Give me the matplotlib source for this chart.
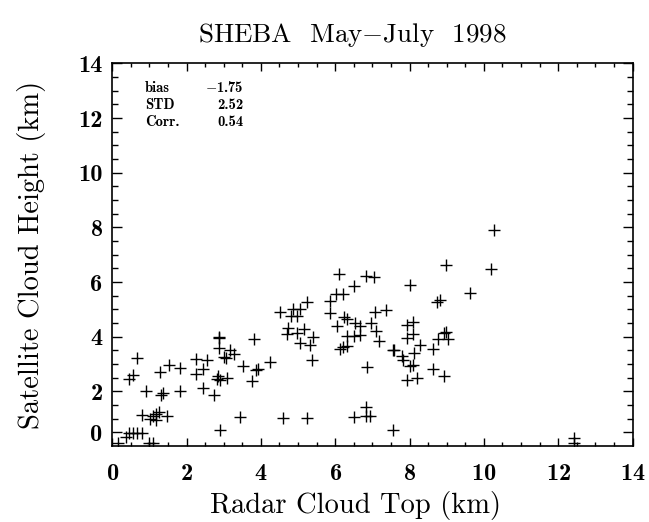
import numpy as np
import matplotlib
matplotlib.use("Agg")
import matplotlib.pyplot as plt
from matplotlib.ticker import FixedLocator, FixedFormatter, MultipleLocator

# Radar cloud top vs satellite cloud height (km)
radar_top = [0.16, 0.37, 0.46, 0.57, 0.67, 0.79, 1.00, 1.10, 0.66, 0.46,
             0.57, 0.91, 0.81, 1.01, 1.09, 1.17, 1.26, 1.18, 1.47, 1.28,
             1.30, 1.37, 1.53, 1.82, 1.82, 2.26, 2.54, 2.26, 2.45, 2.45,
             2.74, 2.81, 2.85, 2.90, 3.08, 2.87, 2.88, 2.86, 3.00, 3.07,
             3.18, 3.27, 2.89, 3.43, 3.52, 3.81, 3.76, 3.88, 3.93, 4.25,
             4.52, 4.60, 4.69, 4.74, 4.80, 4.87, 4.96, 5.06, 4.96, 5.16,
             5.06, 5.24, 5.41, 5.33, 5.38, 5.24, 5.86, 5.87, 6.03, 6.22,
             6.10, 6.50, 6.82, 7.04, 6.04, 6.24, 6.33, 6.53, 6.67, 6.95,
             7.07, 7.37, 7.11, 7.17, 6.32, 6.51, 6.66, 6.13, 6.22, 6.32,
             6.85, 6.84, 6.84, 6.93, 6.50, 7.56, 7.56, 7.58, 7.80, 7.83,
             7.92, 8.10, 8.10, 7.92, 8.02, 8.10, 7.92, 8.20, 8.11, 8.29,
             8.01, 8.64, 8.64, 8.73, 8.82, 8.98, 8.94, 8.99, 8.77, 9.03,
             8.94, 9.62, 10.19, 10.27, 12.43, 12.43]
sat_height = [0.10, 0.33, 0.49, 0.49, 0.49, 0.49, 0.10, 0.10, 3.21, 2.44,
              2.60, 2.00, 1.12, 0.97, 1.10, 1.17, 1.26, 0.95, 1.10, 2.69,
              1.88, 1.93, 2.95, 2.86, 2.00, 3.20, 3.16, 2.64, 2.82, 2.13,
              1.87, 2.44, 2.57, 2.42, 2.48, 4.00, 3.95, 3.60, 3.26, 3.21,
              3.53, 3.37, 0.60, 1.05, 2.94, 3.92, 2.38, 2.78, 2.81, 3.07,
              4.92, 1.04, 4.10, 4.31, 4.76, 5.00, 4.75, 5.03, 4.13, 4.28,
              3.77, 5.26, 4.00, 3.70, 3.16, 1.01, 5.32, 4.88, 5.55, 5.55,
              6.28, 5.87, 6.22, 6.20, 4.40, 4.71, 4.65, 4.49, 4.40, 4.51,
              4.92, 4.99, 4.20, 3.84, 4.02, 4.02, 4.05, 3.55, 3.63, 3.66,
              2.89, 1.44, 1.10, 1.10, 1.07, 0.59, 3.52, 3.50, 3.30, 3.13,
              4.42, 4.55, 4.10, 3.94, 2.92, 2.95, 2.40, 2.48, 3.42, 3.68,
              5.89, 3.54, 2.81, 5.26, 5.35, 6.63, 4.14, 4.18, 3.91, 3.91,
              2.56, 5.59, 6.47, 7.91, 0.28, 0.10]

# y tick positions and their labels (the "0" tick sits half a km up)
y_tick_pos = [0.5, 2, 4, 6, 8, 10, 12, 14]
y_tick_lab = ["0", "2", "4", "6", "8", "10", "12", "14"]
x_tick_pos = [0, 2, 4, 6, 8, 10, 12, 14]

stat_names = ["bias", "STD", "Corr."]
stat_values = [r"$-$1.75", "2.52", "0.54"]

plt.rcParams.update({
    "font.family": "cmr10",
    "mathtext.fontset": "cm",
    "axes.formatter.use_mathtext": True,
})

fig = plt.figure(figsize=(6.49, 5.22), dpi=100)
ax = fig.add_axes([0.173, 0.1456, 0.8016, 0.7328])

ax.plot(radar_top, sat_height, "+", color="black", markersize=8, markeredgewidth=1.0)

ax.set_xlim(0, 14)
ax.set_ylim(0, 14)

ax.xaxis.set_major_locator(FixedLocator(x_tick_pos))
ax.xaxis.set_minor_locator(MultipleLocator(0.5))
ax.yaxis.set_major_locator(FixedLocator(y_tick_pos))
ax.yaxis.set_major_formatter(FixedFormatter(y_tick_lab))
ax.yaxis.set_minor_locator(FixedLocator([v for v in np.arange(1.0, 14.0, 0.5) if v not in y_tick_pos]))

ax.tick_params(axis="both", which="both", direction="in", top=True, right=True, width=1.0)
ax.tick_params(axis="x", which="major", length=6, pad=12)
ax.tick_params(axis="x", which="minor", length=3.2)
ax.tick_params(axis="y", which="major", length=7.5, pad=7)
ax.tick_params(axis="y", which="minor", length=4)
for lab in ax.get_xticklabels() + ax.get_yticklabels():
    lab.set_family("cmb10")
    lab.set_fontsize(17.5)
for sp in ax.spines.values():
    sp.set_linewidth(1.2)

ax.set_xlabel("Radar Cloud Top (km)", fontsize=20.5)
ax.set_ylabel("Satellite Cloud Height (km)", fontsize=20.5)
ax.xaxis.set_label_coords(0.468, -0.118)
ax.yaxis.set_label_coords(-0.128, 0.5)

fig.text(352 / 649, 1 - 35 / 522, r"SHEBA  May$-$July  1998",
         fontsize=19.5, ha="center", va="center")

# statistics box in the upper left corner
for i, (nm, val) in enumerate(zip(stat_names, stat_values)):
    yy = 12.95 - 0.62 * i
    ax.text(0.88, yy, nm, fontsize=10.5, family="cmb10", ha="left", va="baseline")
    ax.text(3.52, yy, val, fontsize=10.5, family="cmb10", ha="right", va="baseline")

fig.savefig("out.png", dpi=100)
